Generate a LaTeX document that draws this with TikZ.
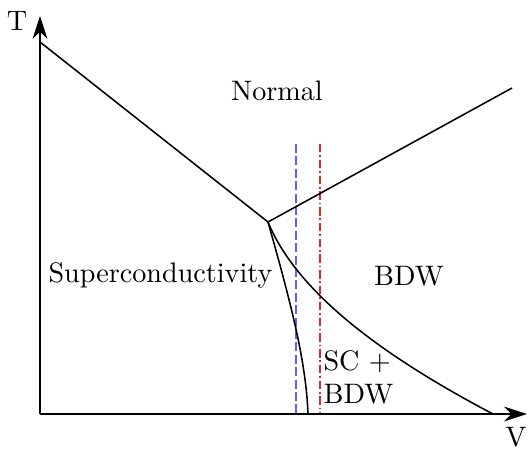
\documentclass[tikz,border=0pt]{standalone}
\usetikzlibrary{arrows.meta}
\definecolor{bluedash}{RGB}{90,100,250}
\definecolor{reddash}{RGB}{220,40,40}
\tikzset{
  axis/.style={line width=0.55pt,-{Stealth[length=8.2pt,width=5.3pt]}},
  phase/.style={line width=0.55pt},
  lbl/.style={anchor=base,inner sep=0pt,font=\normalsize},
  bluecut/.style={bluedash,line width=0.4pt,dash pattern=on 3.2pt off 1.2pt},
  redcut/.style={reddash,line width=0.4pt,dash pattern=on 3pt off 1pt on 0.6pt off 1pt}
}
\begin{document}
\begin{tikzpicture}[x=0.355pt,y=-0.355pt]
\useasboundingbox (0,0) rectangle (529,449);
\coordinate (O) at (40,414);
\coordinate (Ytop) at (40,16);
\coordinate (Xend) at (527,414);
\coordinate (A) at (40,42);
\coordinate (P) at (268,222);
\coordinate (B) at (512,88);
\coordinate (C) at (493,414);
\coordinate (D) at (308,414);
\coordinate (b1) at (296,144);
\coordinate (b2) at (296,414);
\coordinate (r1) at (320,144);
\coordinate (r2) at (320,414);
% cut lines
\draw[bluecut] (b1) -- (b2);
\draw[redcut] (r1) -- (r2);
% axes
\draw[axis] (O) -- (Ytop);
\draw[axis] (O) -- (Xend);
% phase boundaries
\draw[phase] (A) -- (P) -- (B);
\draw[phase] (P) .. controls (300,300) and (400,365) .. (C);
\draw[phase] (P) .. controls (290,300) and (306,360) .. (D);
% labels
\node[lbl] (T) at (17,30) {T};
\node[lbl] (V) at (516,446) {V};
\node[lbl] (normal) at (277,100) {Normal};
\node[lbl] (sc) at (160.5,282) {Superconductivity};
\node[lbl] (bdw) at (409,285) {BDW};
\node[lbl,anchor=base west] (scp) at (323,370) {SC +};
\node[lbl,anchor=base west] (bdw2) at (323,403) {BDW};
\end{tikzpicture}
\end{document}
